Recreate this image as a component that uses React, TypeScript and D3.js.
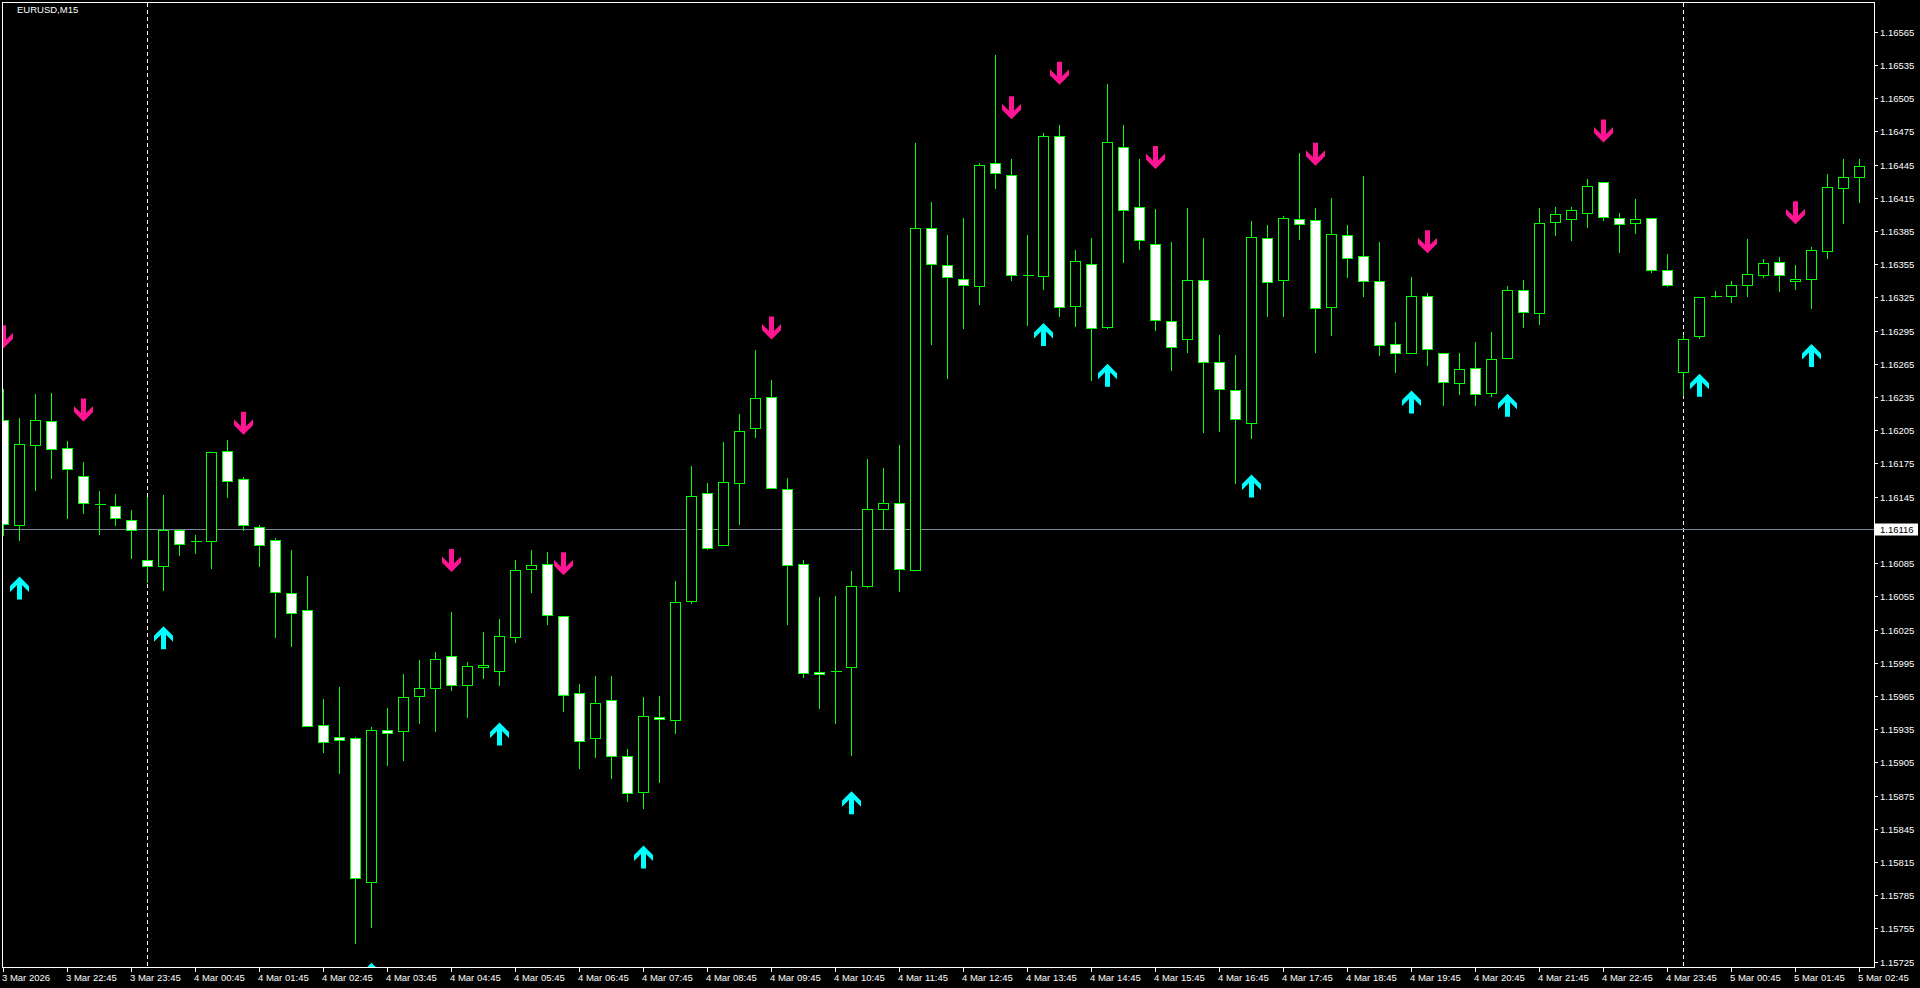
import React from "react";
import * as d3 from "d3";

const symbolTitle = "EURUSD,M15";

const opens = [
  1.16214, 1.16119, 1.16192, 1.16213, 1.16189, 1.16164, 1.16138, 1.16137, 1.16124, 1.16088,
  1.16082, 1.16115, 1.16105, 1.16105, 1.16186, 1.16161, 1.16118, 1.16106, 1.16058, 1.16043,
  1.15939, 1.15928, 1.15927, 1.15797, 1.15934, 1.15933, 1.15965, 1.15972, 1.16001, 1.15975,
  1.15991, 1.15988, 1.16018, 1.16080, 1.16084, 1.16037, 1.15968, 1.15927, 1.15961, 1.15911,
  1.15878, 1.15946, 1.15943, 1.16051, 1.16148, 1.16101, 1.16157, 1.16207, 1.16235, 1.16152,
  1.16084, 1.15987, 1.15988, 1.15991, 1.16064, 1.16134, 1.16139, 1.16079, 1.16388, 1.16354,
  1.16342, 1.16335, 1.16446, 1.16436, 1.16345, 1.16344, 1.16471, 1.16317, 1.16355, 1.16298,
  1.16461, 1.16407, 1.16373, 1.16304, 1.16287, 1.16341, 1.16267, 1.16241, 1.16212, 1.16379,
  1.16341, 1.16396, 1.16395, 1.16316, 1.16381, 1.16362, 1.16340, 1.16283, 1.16275, 1.16326,
  1.16275, 1.16248, 1.16261, 1.16239, 1.16270, 1.16332, 1.16311, 1.16393, 1.16396, 1.16401,
  1.16429, 1.16397, 1.16392, 1.16397, 1.16350, 1.16258, 1.16290, 1.16326, 1.16326, 1.16336,
  1.16345, 1.16357, 1.16340, 1.16342, 1.16367, 1.16424, 1.16434,
];

const highs = [
  1.16243, 1.16217, 1.16239, 1.16240, 1.16196, 1.16177, 1.16151, 1.16148, 1.16134, 1.16146,
  1.16147, 1.16117, 1.16111, 1.16186, 1.16197, 1.16164, 1.16120, 1.16109, 1.16098, 1.16074,
  1.15963, 1.15974, 1.15929, 1.15938, 1.15955, 1.15986, 1.15998, 1.16006, 1.16042, 1.15997,
  1.16024, 1.16035, 1.16089, 1.16098, 1.16096, 1.16038, 1.15977, 1.15984, 1.15984, 1.15918,
  1.15965, 1.15966, 1.16070, 1.16174, 1.16158, 1.16195, 1.16221, 1.16278, 1.16251, 1.16163,
  1.16089, 1.16055, 1.16056, 1.16079, 1.16180, 1.16172, 1.16193, 1.16465, 1.16412, 1.16382,
  1.16398, 1.16447, 1.16545, 1.16451, 1.16382, 1.16474, 1.16482, 1.16369, 1.16380, 1.16519,
  1.16482, 1.16451, 1.16406, 1.16376, 1.16407, 1.16380, 1.16292, 1.16274, 1.16395, 1.16391,
  1.16399, 1.16456, 1.16407, 1.16416, 1.16391, 1.16436, 1.16376, 1.16304, 1.16344, 1.16330,
  1.16275, 1.16276, 1.16286, 1.16295, 1.16336, 1.16342, 1.16407, 1.16408, 1.16408, 1.16433,
  1.16429, 1.16402, 1.16415, 1.16397, 1.16365, 1.16292, 1.16325, 1.16332, 1.16341, 1.16379,
  1.16361, 1.16362, 1.16355, 1.16371, 1.16437, 1.16451, 1.16451,
];

const lows = [
  1.16110, 1.16106, 1.16151, 1.16162, 1.16126, 1.16130, 1.16111, 1.16119, 1.16090, 1.16068,
  1.16061, 1.16092, 1.16094, 1.16081, 1.16145, 1.16115, 1.16082, 1.16018, 1.16010, 1.15938,
  1.15914, 1.15895, 1.15742, 1.15756, 1.15903, 1.15907, 1.15941, 1.15933, 1.15970, 1.15946,
  1.15981, 1.15975, 1.16014, 1.16059, 1.16030, 1.15951, 1.15900, 1.15910, 1.15891, 1.15870,
  1.15864, 1.15887, 1.15932, 1.16049, 1.16098, 1.16101, 1.16120, 1.16199, 1.16153, 1.16030,
  1.15982, 1.15954, 1.15941, 1.15912, 1.16063, 1.16116, 1.16060, 1.16079, 1.16283, 1.16252,
  1.16297, 1.16319, 1.16424, 1.16341, 1.16300, 1.16333, 1.16308, 1.16299, 1.16250, 1.16297,
  1.16357, 1.16369, 1.16296, 1.16259, 1.16276, 1.16203, 1.16204, 1.16157, 1.16198, 1.16308,
  1.16308, 1.16378, 1.16276, 1.16291, 1.16343, 1.16326, 1.16273, 1.16258, 1.16275, 1.16264,
  1.16228, 1.16238, 1.16228, 1.16236, 1.16270, 1.16298, 1.16301, 1.16381, 1.16377, 1.16389,
  1.16395, 1.16366, 1.16383, 1.16348, 1.16335, 1.16237, 1.16288, 1.16325, 1.16321, 1.16326,
  1.16343, 1.16331, 1.16333, 1.16315, 1.16361, 1.16392, 1.16411,
];

const closes = [
  1.16120, 1.16193, 1.16214, 1.16188, 1.16170, 1.16139, 1.16138, 1.16126, 1.16115, 1.16082,
  1.16115, 1.16102, 1.16105, 1.16185, 1.16159, 1.16119, 1.16101, 1.16059, 1.16040, 1.15938,
  1.15923, 1.15925, 1.15801, 1.15934, 1.15932, 1.15964, 1.15972, 1.15998, 1.15975, 1.15992,
  1.15993, 1.16019, 1.16079, 1.16083, 1.16038, 1.15966, 1.15924, 1.15959, 1.15911, 1.15877,
  1.15947, 1.15944, 1.16050, 1.16146, 1.16099, 1.16158, 1.16204, 1.16234, 1.16153, 1.16083,
  1.15986, 1.15985, 1.15988, 1.16064, 1.16134, 1.16139, 1.16080, 1.16388, 1.16355, 1.16343,
  1.16336, 1.16445, 1.16437, 1.16345, 1.16345, 1.16471, 1.16316, 1.16358, 1.16297, 1.16465,
  1.16404, 1.16377, 1.16305, 1.16280, 1.16341, 1.16267, 1.16242, 1.16215, 1.16380, 1.16339,
  1.16397, 1.16391, 1.16315, 1.16382, 1.16361, 1.16340, 1.16282, 1.16275, 1.16326, 1.16278,
  1.16249, 1.16260, 1.16238, 1.16269, 1.16332, 1.16312, 1.16392, 1.16400, 1.16404, 1.16426,
  1.16398, 1.16391, 1.16396, 1.16350, 1.16336, 1.16287, 1.16325, 1.16326, 1.16336, 1.16346,
  1.16356, 1.16345, 1.16342, 1.16368, 1.16425, 1.16434, 1.16444,
];

// Sell signal arrows (bar index, price at arrow tip)
const sellBars = [0, 5, 15, 28, 35, 48, 63, 66, 72, 82, 89, 100, 112];
const sellPrices = [
  1.16279, 1.16213, 1.16201, 1.16077, 1.16074, 1.16287, 1.16486, 1.16517, 1.16441, 1.16444,
  1.16365, 1.16465, 1.16391,
];
// Buy signal arrows (bar index, price at arrow tip)
const buyBars = [1, 10, 23, 31, 40, 53, 65, 69, 78, 88, 94, 106, 113];
const buyPrices = [
  1.16073, 1.16028, 1.15724, 1.15941, 1.1583, 1.15879, 1.16302, 1.16265, 1.16165, 1.16241,
  1.16238, 1.16256, 1.16283,
];

const timeLabelBars = [
  0, 4, 8, 12, 16, 20, 24, 28, 32, 36, 40, 44, 48, 52, 56, 60, 64, 68, 72, 76, 80, 84, 88,
  92, 96, 100, 104, 108, 112, 116,
];
const timeLabels = [
  "3 Mar 2026", "3 Mar 22:45", "3 Mar 23:45", "4 Mar 00:45", "4 Mar 01:45", "4 Mar 02:45",
  "4 Mar 03:45", "4 Mar 04:45", "4 Mar 05:45", "4 Mar 06:45", "4 Mar 07:45", "4 Mar 08:45",
  "4 Mar 09:45", "4 Mar 10:45", "4 Mar 11:45", "4 Mar 12:45", "4 Mar 13:45", "4 Mar 14:45",
  "4 Mar 15:45", "4 Mar 16:45", "4 Mar 17:45", "4 Mar 18:45", "4 Mar 19:45", "4 Mar 20:45",
  "4 Mar 21:45", "4 Mar 22:45", "4 Mar 23:45", "5 Mar 00:45", "5 Mar 01:45", "5 Mar 02:45",
];

const priceTicks = [
  1.16565, 1.16535, 1.16505, 1.16475, 1.16445, 1.16415, 1.16385, 1.16355, 1.16325, 1.16295,
  1.16265, 1.16235, 1.16205, 1.16175, 1.16145, 1.16115, 1.16085, 1.16055, 1.16025, 1.15995,
  1.15965, 1.15935, 1.15905, 1.15875, 1.15845, 1.15815, 1.15785, 1.15755, 1.15725,
];

const separatorBars = [9, 105];
const markerPrice = 1.16116;

const W = 1920;
const H = 988;
const frame = { left: 2.5, top: 2.5, right: 1874.5, bottom: 967.5 };
const FONT = "'Liberation Sans', Arial, sans-serif";

function arrowPoints(cx: number, tipY: number, down: boolean): string {
  // Outline in local coords: top = 0, height 23
  const pts: [number, number][] = [
    [-2.5, 0], [2.5, 0], [2.5, 14.5], [9.5, 7.5], [9.5, 13.5], [0, 23],
    [-9.5, 13.5], [-9.5, 7.5], [-2.5, 14.5],
  ];
  if (down) {
    const top = tipY - 23;
    return pts.map(([x, y]) => `${cx + x},${top + y}`).join(" ");
  }
  return pts.map(([x, y]) => `${cx + x},${tipY + 23 - y}`).join(" ");
}

export default function App() {
  const n = opens.length;
  const x = d3.scaleLinear().domain([0, n - 1]).range([3.5, 3.5 + 16 * (n - 1)]);
  const y = d3.scaleLinear().domain([1.15725, 1.16565]).range([961.7, 31.7]);
  const py = (p: number) => Math.round(y(p)) + 0.5;

  const candles = d3.range(n).map((i) => ({
    i,
    o: opens[i],
    h: highs[i],
    l: lows[i],
    c: closes[i],
  }));

  return (
    <div style={{ position: "fixed", left: 0, top: 0, width: W, height: H, background: "#000" }}>
      <svg width={W} height={H} style={{ display: "block" }}>
        <defs>
          <clipPath id="plot">
            <rect x={frame.left} y={frame.top} width={frame.right - frame.left} height={frame.bottom - frame.top} />
          </clipPath>
        </defs>
        <rect x={0} y={0} width={W} height={H} fill="#000" />

        <g clipPath="url(#plot)">
          {/* period separators */}
          {separatorBars.map((b) => (
            <line
              key={"sep" + b}
              x1={x(b)}
              x2={x(b)}
              y1={frame.top}
              y2={frame.bottom}
              stroke="#fff"
              strokeWidth={1}
              strokeDasharray="4,3"
              shapeRendering="crispEdges"
            />
          ))}
          {/* marker horizontal line */}
          <line
            x1={frame.left}
            x2={frame.right}
            y1={py(markerPrice)}
            y2={py(markerPrice)}
            stroke="#778899"
            strokeWidth={1}
            shapeRendering="crispEdges"
          />
          {/* candles */}
          {candles.map((d) => {
            const cx = x(d.i);
            const bull = d.c >= d.o;
            const yTop = py(Math.max(d.o, d.c));
            const yBot = py(Math.min(d.o, d.c));
            return (
              <g key={"c" + d.i} shapeRendering="crispEdges">
                <line x1={cx} x2={cx} y1={py(d.h)} y2={py(d.l)} stroke="#00ff00" strokeWidth={1} />
                {yBot - yTop < 1 ? (
                  <line x1={cx - 5} x2={cx + 6} y1={yTop} y2={yTop} stroke="#00ff00" strokeWidth={1} />
                ) : (
                  <rect
                    x={cx - 5}
                    y={yTop}
                    width={10}
                    height={yBot - yTop}
                    fill={bull ? "#000" : "#fff"}
                    stroke="#00ff00"
                    strokeWidth={1}
                  />
                )}
              </g>
            );
          })}
          {/* arrows */}
          {sellBars.map((b, k) => (
            <polygon key={"s" + b} points={arrowPoints(x(b), y(sellPrices[k]), true)} fill="#ff1493" />
          ))}
          {buyBars.map((b, k) => (
            <polygon key={"b" + b} points={arrowPoints(x(b), y(buyPrices[k]), false)} fill="#00ffff" />
          ))}
        </g>

        {/* frame */}
        <rect
          x={frame.left}
          y={frame.top}
          width={frame.right - frame.left}
          height={frame.bottom - frame.top}
          fill="none"
          stroke="#fff"
          strokeWidth={1}
          shapeRendering="crispEdges"
        />

        {/* title */}
        <text x={17} y={13} fill="#fff" fontFamily={FONT} fontSize={9.5}>
          {symbolTitle}
        </text>

        {/* price axis */}
        {priceTicks.map((p) => (
          <g key={"p" + p}>
            <line x1={frame.right} x2={frame.right + 3} y1={py(p)} y2={py(p)} stroke="#fff" shapeRendering="crispEdges" />
            <text x={1880} y={py(p) + 3.5} fill="#fff" fontFamily={FONT} fontSize={9.5}>
              {p.toFixed(5)}
            </text>
          </g>
        ))}
        {/* marker price label */}
        <rect x={1875} y={py(markerPrice) - 6} width={43} height={12} fill="#fff" />
        <text x={1880} y={py(markerPrice) + 3.5} fill="#000" fontFamily={FONT} fontSize={9.5}>
          {markerPrice.toFixed(5)}
        </text>

        {/* time axis */}
        {timeLabelBars.map((b, k) => (
          <g key={"t" + b}>
            <line x1={x(b)} x2={x(b)} y1={frame.bottom} y2={frame.bottom + 4} stroke="#fff" shapeRendering="crispEdges" />
            <text x={x(b) - 1.5} y={981} fill="#fff" fontFamily={FONT} fontSize={9.5}>
              {timeLabels[k]}
            </text>
          </g>
        ))}
      </svg>
    </div>
  );
}
